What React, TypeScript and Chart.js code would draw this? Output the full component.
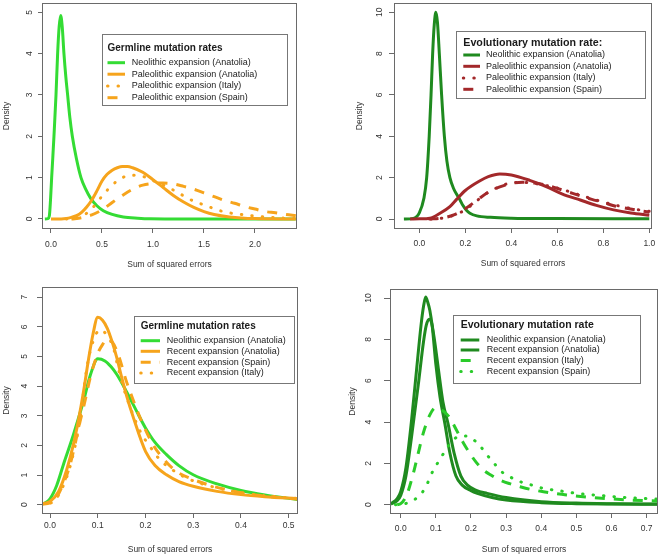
import React, { useEffect, useRef } from "react";
import { Chart, registerables } from "chart.js";

Chart.register(...registerables);

type Pt = [number, number];

// ---------- Panel 1: Germline mutation rates (Paleolithic) ----------
const p1XTicks = [0, 0.5, 1, 1.5, 2];
const p1YTicks = [0, 1, 2, 3, 4, 5];
const p1NeolithicAnatolia: Pt[] = [
  [-0.06, 0], [-0.03, 0.01], [-0.016, 0.08], [-0.005, 0.45], [0.0065, 1.0], [0.018, 1.5],
  [0.029, 2.0], [0.049, 3.0], [0.065, 4.0], [0.08, 4.65], [0.095, 4.92], [0.11, 4.65],
  [0.127, 4.0], [0.145, 3.45], [0.163, 3.0], [0.185, 2.45], [0.209, 2.0], [0.25, 1.45],
  [0.294, 1.0], [0.34, 0.72], [0.389, 0.5], [0.45, 0.32], [0.513, 0.2], [0.6, 0.11],
  [0.709, 0.05], [0.85, 0.02], [0.97, 0.005], [1.2, 0.001], [2.4, 0],
];
const p1PaleoAnatolia: Pt[] = [
  [0.0, 0], [0.1, 0], [0.15, 0.01], [0.2, 0.04], [0.25, 0.08], [0.3, 0.16], [0.35, 0.29],
  [0.4, 0.46], [0.45, 0.68], [0.5, 0.92], [0.55, 1.08], [0.6, 1.18], [0.65, 1.24], [0.7, 1.27],
  [0.75, 1.27], [0.8, 1.24], [0.9, 1.13], [1.0, 0.95], [1.1, 0.76], [1.2, 0.57], [1.3, 0.41],
  [1.4, 0.28], [1.5, 0.18], [1.6, 0.11], [1.75, 0.05], [2.0, 0.01], [2.4, 0],
];
const p1PaleoItaly: Pt[] = [
  [0.15, 0], [0.2, 0.01], [0.3, 0.06], [0.4, 0.25], [0.5, 0.55], [0.6, 0.82], [0.7, 1.0],
  [0.8, 1.06], [0.9, 1.03], [1.0, 0.93], [1.1, 0.82], [1.2, 0.7], [1.3, 0.56], [1.4, 0.43],
  [1.5, 0.34], [1.6, 0.25], [1.7, 0.17], [1.8, 0.13], [1.9, 0.1], [2.0, 0.07], [2.1, 0.05],
  [2.2, 0.03], [2.4, 0.01],
];
const p1PaleoSpain: Pt[] = [
  [0.2, 0], [0.3, 0.03], [0.4, 0.1], [0.5, 0.22], [0.6, 0.4], [0.7, 0.57], [0.8, 0.72],
  [0.9, 0.82], [1.0, 0.86], [1.1, 0.87], [1.2, 0.85], [1.3, 0.79], [1.4, 0.72], [1.5, 0.63],
  [1.6, 0.54], [1.7, 0.45], [1.8, 0.38], [1.9, 0.3], [2.0, 0.24], [2.1, 0.18], [2.2, 0.15],
  [2.3, 0.11], [2.4, 0.08],
];

// ---------- Panel 2: Evolutionary mutation rate (Paleolithic) ----------
const p2XTicks = [0, 0.2, 0.4, 0.6, 0.8, 1.0];
const p2YTicks = [0, 2, 4, 6, 8, 10];
const p2NeolithicAnatolia: Pt[] = [
  [-0.067, 0], [-0.026, 0.03], [0.0, 0.3], [0.02, 1.0], [0.032, 2.0], [0.043, 4.0],
  [0.051, 6.0], [0.058, 8.0], [0.065, 9.4], [0.072, 10.0], [0.079, 9.5], [0.087, 8.0],
  [0.097, 6.0], [0.109, 4.0], [0.12, 2.8], [0.133, 2.0], [0.15, 1.45], [0.165, 1.15],
  [0.177, 0.92], [0.19, 0.65], [0.205, 0.42], [0.22, 0.28], [0.25, 0.15], [0.31, 0.08],
  [0.4, 0.04], [0.6, 0.02], [1.0, 0.01],
];
const p2PaleoAnatolia: Pt[] = [
  [-0.04, 0], [0.0, 0.01], [0.046, 0.04], [0.09, 0.28], [0.133, 0.6], [0.162, 0.95],
  [0.2, 1.38], [0.264, 1.85], [0.3, 2.05], [0.35, 2.18], [0.4, 2.13], [0.48, 1.87],
  [0.554, 1.56], [0.62, 1.22], [0.7, 0.92], [0.77, 0.66], [0.845, 0.44], [0.92, 0.29], [1.0, 0.18],
];
const p2PaleoItaly: Pt[] = [
  [0.05, 0], [0.1, 0.04], [0.15, 0.18], [0.2, 0.45], [0.25, 0.88], [0.3, 1.3], [0.35, 1.57],
  [0.4, 1.75], [0.45, 1.77], [0.5, 1.72], [0.55, 1.62], [0.6, 1.5], [0.65, 1.33], [0.7, 1.15],
  [0.75, 0.98], [0.8, 0.82], [0.85, 0.68], [0.9, 0.55], [0.95, 0.45], [1.0, 0.37],
];
const p2PaleoSpain: Pt[] = [
  [0.04, 0], [0.1, 0.05], [0.15, 0.2], [0.2, 0.5], [0.25, 0.9], [0.3, 1.3], [0.35, 1.55],
  [0.4, 1.72], [0.45, 1.78], [0.5, 1.74], [0.55, 1.65], [0.6, 1.48], [0.65, 1.3], [0.7, 1.12],
  [0.75, 0.95], [0.8, 0.8], [0.85, 0.63], [0.9, 0.52], [0.95, 0.42], [1.0, 0.33],
];

// ---------- Panel 3: Germline mutation rates (Recent) ----------
const p3XTicks = [0, 0.1, 0.2, 0.3, 0.4, 0.5];
const p3YTicks = [0, 1, 2, 3, 4, 5, 6, 7];
const p3NeolithicAnatolia: Pt[] = [
  [-0.02, 0.02], [-0.01, 0.06], [0.0, 0.2], [0.014, 0.65], [0.028, 1.35], [0.049, 2.36],
  [0.07, 3.49], [0.085, 4.4], [0.1, 4.92], [0.115, 4.85], [0.128, 4.65], [0.14, 4.39],
  [0.16, 3.82], [0.18, 3.2], [0.2, 2.59], [0.22, 2.1], [0.244, 1.69], [0.27, 1.32], [0.3, 1.01],
  [0.35, 0.7], [0.4, 0.48], [0.45, 0.33], [0.52, 0.17],
];
const p3RecentAnatolia: Pt[] = [
  [-0.02, 0.02], [0.0, 0.11], [0.018, 0.45], [0.035, 1.18], [0.05, 2.1], [0.063, 3.15],
  [0.072, 4.0], [0.08, 4.84], [0.09, 5.75], [0.1, 6.32], [0.11, 6.22], [0.12, 5.95], [0.13, 5.5],
  [0.14, 4.95], [0.15, 4.3], [0.16, 3.7], [0.175, 2.92], [0.2, 1.8], [0.22, 1.32], [0.244, 1.01],
  [0.27, 0.78], [0.3, 0.62], [0.35, 0.45], [0.4, 0.34], [0.45, 0.27], [0.52, 0.2],
];
const p3RecentSpain: Pt[] = [
  [-0.02, 0.01], [0.007, 0.11], [0.025, 0.6], [0.042, 1.35], [0.063, 2.81], [0.074, 3.55],
  [0.084, 4.27], [0.1, 5.1], [0.11, 5.4], [0.119, 5.57], [0.13, 5.5], [0.143, 5.06], [0.16, 4.16],
  [0.175, 3.5], [0.189, 2.92], [0.216, 2.02], [0.24, 1.5], [0.265, 1.12], [0.3, 0.85],
  [0.342, 0.62], [0.38, 0.47], [0.426, 0.34], [0.47, 0.26], [0.52, 0.19],
];
const p3RecentItaly: Pt[] = [
  [-0.02, 0.01], [0.007, 0.1], [0.022, 0.45], [0.038, 1.07], [0.05, 1.8], [0.06, 2.59],
  [0.068, 3.5], [0.077, 4.6], [0.09, 5.5], [0.105, 5.9], [0.12, 5.7], [0.133, 5.28], [0.143, 4.6],
  [0.154, 3.94], [0.17, 3.2], [0.189, 2.47], [0.21, 1.95], [0.23, 1.52], [0.256, 1.18],
  [0.286, 0.9], [0.33, 0.65], [0.384, 0.45], [0.44, 0.32], [0.52, 0.21],
];

// ---------- Panel 4: Evolutionary mutation rate (Recent) ----------
const p4XTicks = [0, 0.1, 0.2, 0.3, 0.4, 0.5, 0.6, 0.7];
const p4YTicks = [0, 2, 4, 6, 8, 10];
const p4NeolithicAnatolia: Pt[] = [
  [-0.028, 0.05], [-0.01, 0.3], [0.0, 0.63], [0.015, 1.8], [0.031, 4.1], [0.045, 6.5],
  [0.058, 8.7], [0.065, 9.6], [0.071, 10.05], [0.077, 9.8], [0.083, 9.4], [0.09, 8.6],
  [0.1, 6.8], [0.112, 5.2], [0.126, 3.9], [0.14, 2.5], [0.157, 1.4], [0.175, 0.95], [0.2, 0.68],
  [0.218, 0.55], [0.26, 0.35], [0.3, 0.23], [0.4, 0.1], [0.5, 0.05], [0.6, 0.03], [0.73, 0.02],
];
const p4RecentAnatolia: Pt[] = [
  [-0.028, 0.03], [-0.01, 0.2], [0.0, 0.45], [0.015, 1.4], [0.031, 3.3], [0.05, 5.8],
  [0.065, 7.9], [0.073, 8.7], [0.081, 8.98], [0.088, 8.8], [0.095, 8.1], [0.107, 6.6],
  [0.12, 5.0], [0.135, 3.9], [0.152, 2.5], [0.171, 1.4], [0.19, 0.95], [0.215, 0.7],
  [0.246, 0.55], [0.3, 0.35], [0.4, 0.15], [0.5, 0.08], [0.6, 0.05], [0.73, 0.03],
];
const p4RecentItaly: Pt[] = [
  [-0.01, 0.0], [0.0, 0.05], [0.017, 0.47], [0.036, 1.52], [0.05, 2.5], [0.064, 3.45],
  [0.083, 4.35], [0.1, 4.7], [0.12, 4.55], [0.14, 4.2], [0.159, 3.6], [0.178, 3.0],
  [0.197, 2.48], [0.215, 2.05], [0.235, 1.68], [0.26, 1.4], [0.283, 1.19], [0.31, 1.02],
  [0.34, 0.87], [0.37, 0.74], [0.406, 0.63], [0.44, 0.54], [0.472, 0.47], [0.505, 0.41],
  [0.539, 0.36], [0.6, 0.28], [0.66, 0.22], [0.73, 0.18],
];
const p4RecentSpain: Pt[] = [
  [-0.015, 0.0], [0.0, 0.02], [0.022, 0.1], [0.05, 0.39], [0.069, 0.79], [0.093, 1.68],
  [0.112, 2.2], [0.128, 2.65], [0.145, 3.05], [0.165, 3.3], [0.185, 3.32], [0.202, 3.21],
  [0.226, 2.84], [0.246, 2.4], [0.266, 2.0], [0.287, 1.6], [0.311, 1.35], [0.341, 1.11],
  [0.373, 0.95], [0.406, 0.79], [0.437, 0.71], [0.47, 0.63], [0.5, 0.55], [0.53, 0.5],
  [0.56, 0.46], [0.6, 0.4], [0.66, 0.33], [0.73, 0.27],
];

// ---------- styling ----------
const FONT = '"Liberation Sans", Arial, Helvetica, sans-serif';
const AXIS_COLOR = "#6a6a6a";
const TEXT_COLOR = "#333333";
const LIME = "#34dc34";
const ORANGE = "#f6a41c";
const FOREST = "#1f8a1f";
const BROWN = "#a3282a";
const GREEN3 = "#2acb2a";

type Style = "solid" | "dashed" | "dotted";
interface SeriesDef { label: string; data: Pt[]; color: string; style: Style; }
interface LegendDef {
  title: string; titleSize: number;
  x: number; y: number; w: number; h: number;
  titleX: number; titleY: number; rows: number[];
  s1: number; s2: number; textX: number;
}
interface PanelDef {
  left: number; top: number; width: number; height: number;
  area: { l: number; t: number; r: number; b: number };
  xMin: number; xMax: number; yMin: number; yMax: number;
  xTicks: number[]; yTicks: number[];
  xLabelPad: number; xTitlePad: number; yTitlePad: number; yLabelOffset: number;
  xTickLen: number; yTickLen: number;
  legend: LegendDef;
  series: SeriesDef[];
}

const dashFor = (s: Style) => (s === "dashed" ? [10, 9] : s === "dotted" ? [0.5, 10] : []);

const panels: PanelDef[] = [
  {
    left: 0, top: 0, width: 330, height: 278,
    area: { l: 43, t: 4, r: 296, b: 228 },
    xMin: -0.0784, xMax: 2.402, yMin: -0.218, yMax: 5.2,
    xTicks: p1XTicks, yTicks: p1YTicks,
    xLabelPad: 7, xTitlePad: 8.5, yTitlePad: 1.5, yLabelOffset: 13.7, xTickLen: 5, yTickLen: 5,
    legend: {
      title: "Germline mutation rates", titleSize: 10,
      x: 102, y: 34, w: 185, h: 71, titleX: 107.5, titleY: 48.3,
      rows: [62.7, 74.2, 86, 97.7], s1: 107.5, s2: 125, textX: 131.7,
    },
    series: [
      { label: "Neolithic expansion (Anatolia)", data: p1NeolithicAnatolia, color: LIME, style: "solid" },
      { label: "Paleolithic expansion (Anatolia)", data: p1PaleoAnatolia, color: ORANGE, style: "solid" },
      { label: "Paleolithic expansion (Italy)", data: p1PaleoItaly, color: ORANGE, style: "dotted" },
      { label: "Paleolithic expansion (Spain)", data: p1PaleoSpain, color: ORANGE, style: "dashed" },
    ],
  },
  {
    left: 330, top: 0, width: 331, height: 278,
    area: { l: 65, t: 4, r: 321, b: 228 },
    xMin: -0.1057, xMax: 1.0074, yMin: -0.435, yMax: 10.4,
    xTicks: p2XTicks, yTicks: p2YTicks,
    xLabelPad: 5.5, xTitlePad: 9.5, yTitlePad: 24.8, yLabelOffset: 15.7, xTickLen: 5, yTickLen: 6,
    legend: {
      title: "Evolutionary mutation rate:", titleSize: 10.7,
      x: 126, y: 31, w: 189, h: 67, titleX: 133.3, titleY: 43.3,
      rows: [55, 66.3, 78, 89.3], s1: 133.3, s2: 150, textX: 156,
    },
    series: [
      { label: "Neolithic expansion (Anatolia)", data: p2NeolithicAnatolia, color: FOREST, style: "solid" },
      { label: "Paleolithic expansion (Anatolia)", data: p2PaleoAnatolia, color: BROWN, style: "solid" },
      { label: "Paleolithic expansion (Italy)", data: p2PaleoItaly, color: BROWN, style: "dotted" },
      { label: "Paleolithic expansion (Spain)", data: p2PaleoSpain, color: BROWN, style: "dashed" },
    ],
  },
  {
    left: 0, top: 278, width: 330, height: 280,
    area: { l: 43, t: 10, r: 297, b: 235 },
    xMin: -0.0147, xMax: 0.5174, yMin: -0.28, yMax: 7.31,
    xTicks: p3XTicks, yTicks: p3YTicks,
    xLabelPad: 3, xTitlePad: 3.1, yTitlePad: 1.5, yLabelOffset: 18, xTickLen: 5, yTickLen: 6,
    legend: {
      title: "Germline mutation rates", titleSize: 10,
      x: 134.3, y: 37.7, w: 159.7, h: 66.6, titleX: 140.7, titleY: 48.3,
      rows: [62.7, 73.3, 84.3, 95], s1: 140.7, s2: 160, textX: 166.7,
    },
    series: [
      { label: "Neolithic expansion (Anatolia)", data: p3NeolithicAnatolia, color: LIME, style: "solid" },
      { label: "Recent expansion (Anatolia)", data: p3RecentAnatolia, color: ORANGE, style: "solid" },
      { label: "Recent expansion (Spain)", data: p3RecentSpain, color: ORANGE, style: "dashed" },
      { label: "Recent expansion (Italy)", data: p3RecentItaly, color: ORANGE, style: "dotted" },
    ],
  },
  {
    left: 330, top: 278, width: 331, height: 280,
    area: { l: 61, t: 12, r: 327, b: 235 },
    xMin: -0.0276, xMax: 0.7294, yMin: -0.4, yMax: 10.39,
    xTicks: p4XTicks, yTicks: p4YTicks,
    xLabelPad: 6, xTitlePad: 2.8, yTitlePad: 17.5, yLabelOffset: 22.7, xTickLen: 5, yTickLen: 7,
    legend: {
      title: "Evolutionary mutation rate", titleSize: 10.5,
      x: 123.3, y: 37, w: 186.7, h: 68, titleX: 130.7, titleY: 47,
      rows: [62, 72, 82.5, 93.5], s1: 130.7, s2: 149.3, textX: 156.7,
    },
    series: [
      { label: "Neolithic expansion (Anatolia)", data: p4NeolithicAnatolia, color: FOREST, style: "solid" },
      { label: "Recent expansion (Anatolia)", data: p4RecentAnatolia, color: FOREST, style: "solid" },
      { label: "Recent expansion (Italy)", data: p4RecentItaly, color: GREEN3, style: "dashed" },
      { label: "Recent expansion (Spain)", data: p4RecentSpain, color: GREEN3, style: "dotted" },
    ],
  },
];

function framePlugin(p: PanelDef) {
  return {
    id: "frameAndLegend",
    afterDraw(chart: any) {
      const ctx: CanvasRenderingContext2D = chart.ctx;
      const a = chart.chartArea;
      const yScale = chart.scales.y;
      ctx.save();
      // plot box
      ctx.strokeStyle = AXIS_COLOR;
      ctx.lineWidth = 1;
      ctx.setLineDash([]);
      ctx.strokeRect(Math.round(a.left) - 0.5, Math.round(a.top) - 0.5,
        Math.round(a.right) - Math.round(a.left) + 1, Math.round(a.bottom) - Math.round(a.top) + 1);
      // rotated y tick labels
      ctx.fillStyle = TEXT_COLOR;
      ctx.font = `8.5px ${FONT}`;
      ctx.textAlign = "center";
      ctx.textBaseline = "middle";
      for (const v of p.yTicks) {
        const y = yScale.getPixelForValue(v);
        ctx.save();
        ctx.translate(a.left - p.yLabelOffset, y);
        ctx.rotate(-Math.PI / 2);
        ctx.fillText(String(v), 0, 0);
        ctx.restore();
      }
      // legend
      const L = p.legend;
      ctx.fillStyle = "#ffffff";
      ctx.fillRect(L.x, L.y, L.w, L.h);
      ctx.strokeStyle = "#777777";
      ctx.lineWidth = 1;
      ctx.strokeRect(Math.round(L.x) + 0.5, Math.round(L.y) + 0.5, Math.round(L.w), Math.round(L.h));
      ctx.fillStyle = "#1a1a1a";
      ctx.textAlign = "left";
      ctx.font = `bold ${L.titleSize}px ${FONT}`;
      ctx.fillText(L.title, L.titleX, L.titleY);
      ctx.font = `9px ${FONT}`;
      p.series.forEach((s, i) => {
        const y = L.rows[i];
        ctx.save();
        ctx.strokeStyle = s.color;
        ctx.lineWidth = 3;
        ctx.setLineDash(dashFor(s.style));
        ctx.lineCap = s.style === "dotted" ? "round" : "butt";
        ctx.beginPath();
        ctx.moveTo(L.s1, y);
        ctx.lineTo(L.s2, y);
        ctx.stroke();
        ctx.restore();
        ctx.fillStyle = "#222222";
        ctx.fillText(s.label, L.textX, y);
      });
      ctx.restore();
    },
  };
}

function makeConfig(p: PanelDef): any {
  const axisFont = { family: FONT, size: 8.5 };
  return {
    type: "line",
    data: {
      datasets: p.series.map((s, i) => ({
        label: s.label,
        data: s.data.map(([x, y]) => ({ x, y })),
        borderColor: s.color,
        backgroundColor: s.color,
        borderWidth: 3,
        borderDash: dashFor(s.style),
        borderCapStyle: s.style === "dotted" ? "round" : "butt",
        borderJoinStyle: "round",
        pointRadius: 0,
        pointHoverRadius: 0,
        fill: false,
        cubicInterpolationMode: "monotone",
        order: -i,
      })),
    },
    options: {
      animation: false,
      responsive: false,
      events: [],
      layout: {
        autoPadding: false,
        padding: { left: 0, top: p.area.t, right: p.width - p.area.r, bottom: 0 },
      },
      plugins: { legend: { display: false }, tooltip: { enabled: false }, title: { display: false } },
      scales: {
        x: {
          type: "linear",
          min: p.xMin,
          max: p.xMax,
          afterBuildTicks: (s: any) => { s.ticks = p.xTicks.map((v) => ({ value: v })); },
          afterFit: (s: any) => { s.height = p.height - p.area.b; },
          ticks: {
            autoSkip: false, maxRotation: 0, minRotation: 0, padding: p.xLabelPad,
            font: axisFont, color: TEXT_COLOR,
            callback: (v: any) => Number(v).toFixed(1),
          },
          grid: { display: true, drawOnChartArea: false, drawTicks: true, tickLength: p.xTickLen, color: AXIS_COLOR, lineWidth: 1 },
          border: { display: false },
          title: {
            display: true, text: "Sum of squared errors", font: axisFont, color: TEXT_COLOR,
            padding: { top: 0, bottom: p.xTitlePad },
          },
        },
        y: {
          type: "linear",
          min: p.yMin,
          max: p.yMax,
          afterBuildTicks: (s: any) => { s.ticks = p.yTicks.map((v) => ({ value: v })); },
          afterFit: (s: any) => { s.width = p.area.l; },
          ticks: { display: false },
          grid: { display: true, drawOnChartArea: false, drawTicks: true, tickLength: p.yTickLen, color: AXIS_COLOR, lineWidth: 1 },
          border: { display: false },
          title: {
            display: true, text: "Density", font: axisFont, color: TEXT_COLOR,
            padding: { top: p.yTitlePad, bottom: 0 },
          },
        },
      },
    },
    plugins: [framePlugin(p)],
  };
}

function Panel({ p }: { p: PanelDef }) {
  const ref = useRef<HTMLCanvasElement>(null);
  useEffect(() => {
    const chart = new Chart(ref.current as HTMLCanvasElement, makeConfig(p));
    return () => chart.destroy();
  }, [p]);
  return (
    <canvas
      ref={ref}
      width={p.width}
      height={p.height}
      style={{ position: "absolute", left: p.left, top: p.top, width: p.width, height: p.height }}
    />
  );
}

export default function App() {
  return (
    <div style={{ position: "fixed", left: 0, top: 0, width: 661, height: 558, background: "#ffffff", overflow: "hidden" }}>
      {panels.map((p, i) => (
        <Panel key={i} p={p} />
      ))}
    </div>
  );
}
